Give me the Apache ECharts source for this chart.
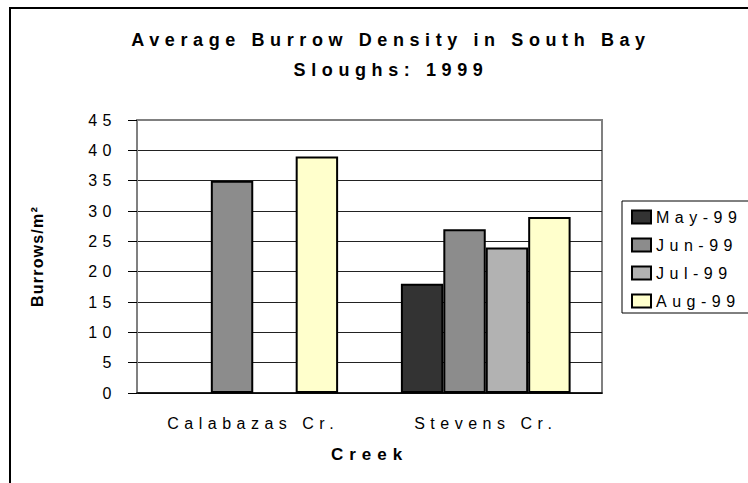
<!DOCTYPE html>
<html>
<head>
<meta charset="utf-8">
<script src="https://cdn.jsdelivr.net/npm/echarts@6/dist/echarts.min.js"></script>
<style>
	html, body { margin: 0; padding: 0; background: #fff; }
	#chart { width: 748px; height: 483px; }
</style>
</head>
<body>
<div id="chart"></div>
<script>
const creeks = ["Calabazas Cr.", "Stevens Cr."];
const months = ["May-99", "Jun-99", "Jul-99", "Aug-99"];
const may99 = [null, 18];
const jun99 = [35, 27];
const jul99 = [null, 24];
const aug99 = [39, 29];
const yTicks = { min: 0, max: 45, interval: 5 };

const monthColours = ["#333333", "#8c8c8c", "#b2b2b2", "#ffffcc"];
const fontName = "Liberation Sans";

function barSeries(name, values, colour) {
	return {
		name: name,
		type: "bar",
		data: values,
		barGap: "0%",
		barCategoryGap: "27%",
		itemStyle: { color: colour, borderColor: "#000", borderWidth: 2 },
		emphasis: { disabled: true },
	};
}

// spread letters like the old spreadsheet chart did
function spaceText(dom) {
	dom.querySelectorAll("text").forEach((t) => {
		const cs = getComputedStyle(t);
		const bold = parseInt(cs.fontWeight) >= 600;
		const size = parseFloat(cs.fontSize);
		let s = 5.5;
		if (bold && size >= 18) s = 5.6; // title
		else if (bold && size < 16.5) s = 1.2; // y name
		else if (bold) s = 6;
		t.style.letterSpacing = s + "px";
	});
}

const chartDom = document.getElementById("chart");
const myChart = echarts.init(chartDom, null, { renderer: "svg" });
const option = {
	animation: false,
	backgroundColor: "#fff",
	textStyle: { fontFamily: fontName, color: "#000" },
	title: {
		text: "Average Burrow Density in South Bay\nSloughs: 1999",
		left: 386,
		top: 20,
		textAlign: "center",
		textStyle: { fontSize: 18, fontWeight: "bold", lineHeight: 30, fontFamily: fontName, color: "#000" },
	},
	legend: {
		orient: "vertical",
		left: 631,
		top: 209,
		padding: 0,
		itemWidth: 19,
		itemHeight: 13,
		itemGap: 12,
		icon: "rect",
		textStyle: { fontSize: 16, fontFamily: fontName, color: "#000", padding: [0, 0, 0, 0] },
		data: months,
	},
	graphic: [
		{
			type: "rect",
			shape: { x: 10, y: 8, width: 800, height: 600 },
			style: { fill: "none", stroke: "#000", lineWidth: 2 },
			silent: true,
		},
		{
			type: "rect",
			shape: { x: 622, y: 201, width: 200, height: 112 },
			style: { fill: "none", stroke: "#000", lineWidth: 1 },
			silent: true,
		},
	],
	grid: {
		left: 137,
		right: 146,
		top: 120,
		bottom: 90,
		show: true,
		borderColor: "#808080",
		borderWidth: 2,
	},
	xAxis: {
		type: "category",
		data: creeks,
		name: "Creek",
		nameLocation: "middle",
		nameGap: 53,
		nameTextStyle: { fontSize: 17, fontWeight: "bold", color: "#000" },
		axisLine: { lineStyle: { color: "#000", width: 1.5 } },
		axisTick: { length: 5, lineStyle: { color: "#000" } },
		axisLabel: { fontSize: 16, color: "#000", margin: 22 },
	},
	yAxis: {
		type: "value",
		min: yTicks.min,
		max: yTicks.max,
		interval: yTicks.interval,
		name: "Burrows/m²",
		nameLocation: "middle",
		nameGap: 92,
		nameTextStyle: { fontSize: 16, fontWeight: "bold", color: "#000" },
		axisLine: { show: true, lineStyle: { color: "#808080", width: 2 } },
		axisTick: { show: true, length: 9, lineStyle: { color: "#000" } },
		axisLabel: { fontSize: 16, color: "#000", margin: 20 },
		splitLine: { show: true, showMaxLine: false, lineStyle: { color: "#222", width: 1 } },
	},
	series: [
		barSeries(months[0], may99, monthColours[0]),
		barSeries(months[1], jun99, monthColours[1]),
		barSeries(months[2], jul99, monthColours[2]),
		barSeries(months[3], aug99, monthColours[3]),
	],
};
myChart.on("finished", () => spaceText(chartDom));
myChart.setOption(option);
spaceText(chartDom);
</script>
</body>
</html>
